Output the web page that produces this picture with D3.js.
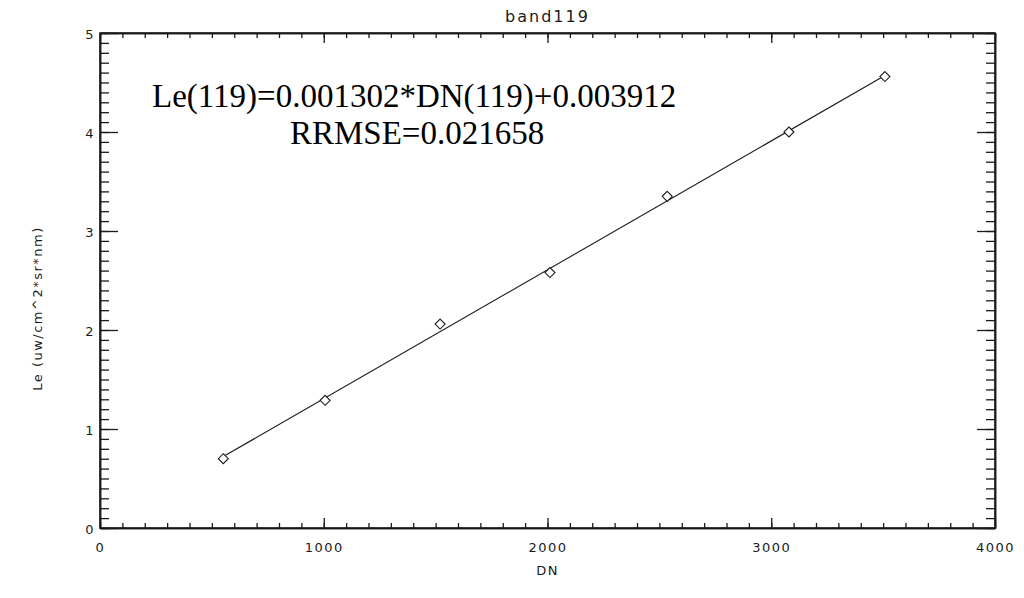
<!DOCTYPE html>
<html>
<head>
<meta charset="utf-8">
<script src="https://cdn.jsdelivr.net/npm/d3@7"></script>
<style>
html,body{margin:0;padding:0;background:#fff;}
svg{display:block;}
</style>
</head>
<body>
<svg id="chart" width="1024" height="598"></svg>
<script>
// Data
const dnValues = [551, 1006, 1520, 2011, 2535, 3079, 3508];
const leValues = [0.70, 1.29, 2.06, 2.58, 3.35, 4.00, 4.56];
const fitSlope = 0.001302;
const fitIntercept = 0.003912;
const xTicks = [0, 1000, 2000, 3000, 4000];
const yTicks = [0, 1, 2, 3, 4, 5];
const titleText = "band119";
const xTitle = "DN";
const yTitle = "Le (uw/cm^2*sr*nm)";
const eqText = "Le(119)=0.001302*DN(119)+0.003912";
const rrmseText = "RRMSE=0.021658";

(function () {
const svg = d3.select("#chart");
const L = 100, R = 995, T = 33, B = 528;
const x = d3.scaleLinear().domain([0, 4000]).range([L, R]);
const y = d3.scaleLinear().domain([0, 5]).range([B, T]);
const ink = "#1a1a1a";
const font = "'DejaVu Sans', Verdana, sans-serif";

// Axes with IDL-style inward ticks
const xMinor = d3.range(0, 4001, 100);
const yMinor = d3.range(0, 5.0001, 0.1);
const xMajLen = 10, xMinLen = 5, yMajLen = 18, yMinLen = 9;

svg.append("g").attr("transform", `translate(0,${B})`)
  .call(d3.axisBottom(x).tickValues(xMinor).tickFormat("").tickSize(-xMinLen).tickSizeOuter(0));
svg.append("g").attr("class", "lab").attr("transform", `translate(0,${B})`)
  .call(d3.axisBottom(x).tickValues(xTicks).tickFormat(d3.format("d")).tickSize(-xMajLen).tickSizeOuter(0).tickPadding(15));
svg.append("g").attr("transform", `translate(0,${T})`)
  .call(d3.axisTop(x).tickValues(xMinor).tickFormat("").tickSize(-xMinLen).tickSizeOuter(0));
svg.append("g").attr("transform", `translate(0,${T})`)
  .call(d3.axisTop(x).tickValues(xTicks).tickFormat("").tickSize(-xMajLen).tickSizeOuter(0));
svg.append("g").attr("transform", `translate(${L},0)`)
  .call(d3.axisLeft(y).tickValues(yMinor).tickFormat("").tickSize(-yMinLen).tickSizeOuter(0));
svg.append("g").attr("class", "lab ylab").attr("transform", `translate(${L},0)`)
  .call(d3.axisLeft(y).tickValues(yTicks).tickFormat(d3.format("d")).tickSize(-yMajLen).tickSizeOuter(0).tickPadding(5));
svg.append("g").attr("transform", `translate(${R},0)`)
  .call(d3.axisRight(y).tickValues(yMinor).tickFormat("").tickSize(-yMinLen).tickSizeOuter(0));
svg.append("g").attr("transform", `translate(${R},0)`)
  .call(d3.axisRight(y).tickValues(yTicks).tickFormat("").tickSize(-yMajLen).tickSizeOuter(0));

svg.selectAll(".domain").attr("stroke", ink).attr("stroke-width", 1.5);
svg.selectAll(".tick line").attr("stroke", ink).attr("stroke-width", 1.3);
svg.selectAll(".tick text").attr("fill", ink).attr("font-family", font).attr("font-size", 13)
  .attr("letter-spacing", 1.5);
svg.selectAll(".ylab .tick text").attr("dy", "0.45em");

// Frame
svg.append("rect").attr("x", L).attr("y", T).attr("width", R - L).attr("height", B - T)
  .attr("fill", "none").attr("stroke", ink).attr("stroke-width", 1.5);

// Fit line
const x0 = d3.min(dnValues), x1 = d3.max(dnValues);
svg.append("line")
  .attr("x1", x(x0)).attr("y1", y(fitSlope * x0 + fitIntercept))
  .attr("x2", x(x1)).attr("y2", y(fitSlope * x1 + fitIntercept))
  .attr("stroke", ink).attr("stroke-width", 1.1);

// Diamond markers
const pts = dnValues.map((d, i) => [d, leValues[i]]);
svg.append("g").selectAll("path").data(pts).join("path")
  .attr("transform", d => `translate(${x(d[0])},${y(d[1])})`)
  .attr("d", "M0,-5L5,0L0,5L-5,0Z")
  .attr("fill", "#fff").attr("stroke", ink).attr("stroke-width", 1.1);

// Titles
svg.append("text").attr("x", (L + R) / 2).attr("y", 22).attr("text-anchor", "middle")
  .attr("font-family", font).attr("font-size", 16).attr("letter-spacing", 2).attr("fill", ink).text(titleText);
svg.append("text").attr("x", (L + R) / 2).attr("y", 575).attr("text-anchor", "middle")
  .attr("font-family", font).attr("font-size", 13).attr("letter-spacing", 1.5).attr("fill", ink).text(xTitle);
svg.append("text").attr("transform", `translate(42,${(T + B) / 2 + 28}) rotate(-90)`).attr("text-anchor", "middle")
  .attr("font-family", font).attr("font-size", 13).attr("letter-spacing", 1.5).attr("fill", ink).text(yTitle);

// Equation annotation
svg.append("text").attr("x", 152).attr("y", 107)
  .attr("font-family", "'Liberation Serif', 'Times New Roman', serif").attr("font-size", 33).attr("fill", "#000").text(eqText);
svg.append("text").attr("x", 290).attr("y", 144)
  .attr("font-family", "'Liberation Serif', 'Times New Roman', serif").attr("font-size", 33).attr("fill", "#000").text(rrmseText);
})();
</script>
</body>
</html>
